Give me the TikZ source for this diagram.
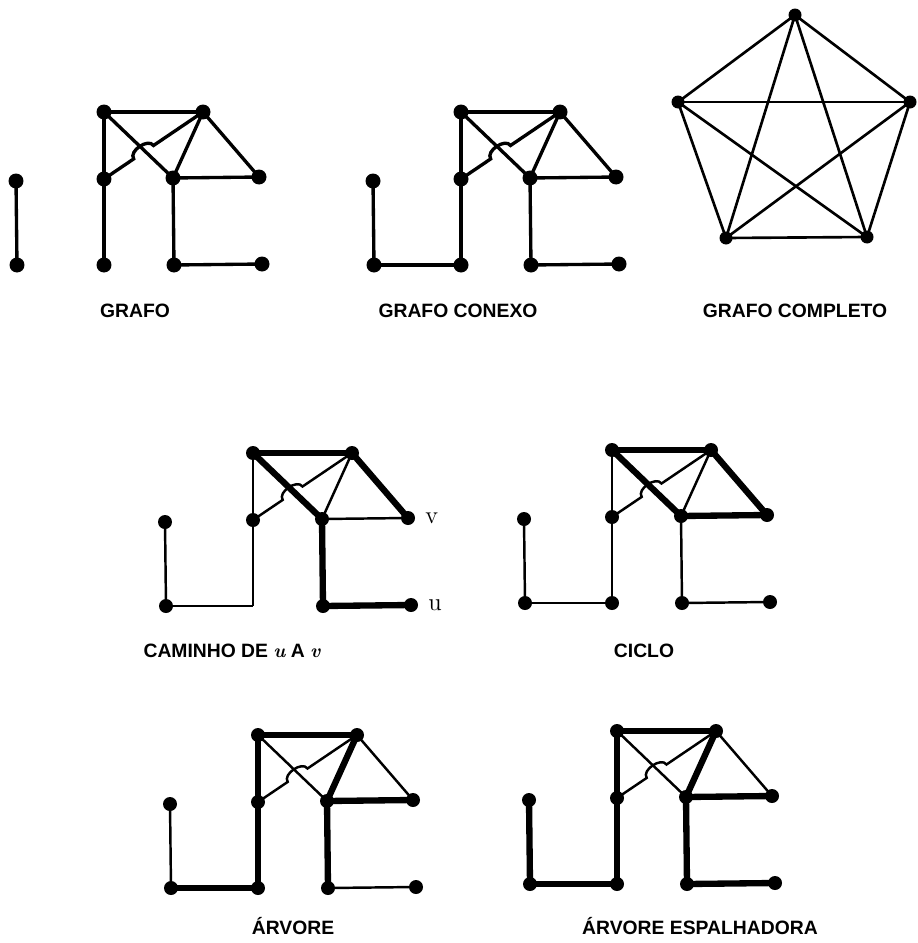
\documentclass[tikz,border=0pt]{standalone}
\usepackage{fontspec}
\usepackage{tikz}
\usetikzlibrary{calc,positioning}
\newfontfamily\capfont{Liberation Sans}

% vertex positions of the small graph, shared by all six copies
\newcommand\houseverts{P/16/181,Q/17/265,A/104/112,B/203/112,C/104/179,D/173/178,E/259/177,F/104/265,G/174/265,H/262/264}

\tikzset{
  plain/.style={line width=1.9pt},
  thin/.style={line width=1.4pt},
  heavy/.style={line width=3.6pt},
  caption/.style={anchor=base,font=\capfont\bfseries\fontsize{11}{13}\selectfont},
  endlbl/.style={anchor=west,inner sep=0pt,font=\fontsize{14}{16}\selectfont},
}

\begin{document}
\begin{tikzpicture}[x=0.02cm,y=-0.02cm]
  \useasboundingbox (0,0) rectangle (917,943);

  % grafo
  \begin{scope}[shift={(0,0)}]
    \foreach \n/\x/\y in \houseverts \coordinate (a\n) at (\x,\y);
    \foreach \u/\v in {P/Q,F/C,C/A,A/B,A/D,B/D,B/E,D/E,D/G,G/H}
      \draw[plain] (a\u) -- (a\v);
    \draw[plain] (aC) -- ($(aC)!0.3!(aB)$) to[bend left=90] ($(aC)!0.5!(aB)$) -- (aB);
    \foreach \n in {P,Q,A,B,C,D,E,F,G,H} \fill (a\n) circle (0.15cm);
  \end{scope}

  % grafo conexo
  \begin{scope}[shift={(357,0)}]
    \foreach \n/\x/\y in \houseverts \coordinate (b\n) at (\x,\y);
    \foreach \u/\v in {P/Q,Q/F,F/C,C/A,A/B,A/D,B/D,B/E,D/E,D/G,G/H}
      \draw[plain] (b\u) -- (b\v);
    \draw[plain] (bC) -- ($(bC)!0.3!(bB)$) to[bend left=90] ($(bC)!0.5!(bB)$) -- (bB);
    \foreach \n in {P,Q,A,B,C,D,E,F,G,H} \fill (b\n) circle (0.15cm);
  \end{scope}

  % grafo completo
  \foreach \n/\x/\y in {1/795/15,2/910/102,3/867/237,4/726/238,5/678/102}
    \coordinate (k\n) at (\x,\y);
  \foreach \u/\v in {1/2,1/3,1/4,1/5,2/3,2/4,2/5,3/4,3/5,4/5}
    \draw[line width=1.5pt] (k\u) -- (k\v);
  \foreach \n in {1,...,5} \fill (k\n) circle (0.13cm);

  % caminho de u a v
  \begin{scope}[shift={(149,341)}]
    \foreach \n/\x/\y in \houseverts \coordinate (c\n) at (\x,\y);
    \foreach \u/\v in {P/Q,Q/F,F/C,C/A,B/D,D/E}
      \draw[thin] (c\u) -- (c\v);
    \foreach \u/\v in {A/B,A/D,B/E,D/G,G/H}
      \draw[heavy] (c\u) -- (c\v);
    \draw[thin] (cC) -- ($(cC)!0.3!(cB)$) to[bend left=90] ($(cC)!0.5!(cB)$) -- (cB);
    \foreach \n in {P,Q,A,B,C,D,E,G,H} \fill (c\n) circle (0.14cm);
  \end{scope}
  \node[endlbl,right=0.34cm of cE] (vlab) {v};
  \node[endlbl,right=0.34cm of cH] (ulab) {u};

  % ciclo
  \begin{scope}[shift={(508,338)}]
    \foreach \n/\x/\y in \houseverts \coordinate (d\n) at (\x,\y);
    \foreach \u/\v in {P/Q,Q/F,F/C,C/A,B/D,D/G,G/H}
      \draw[thin] (d\u) -- (d\v);
    \foreach \u/\v in {A/B,A/D,B/E,D/E}
      \draw[heavy] (d\u) -- (d\v);
    \draw[thin] (dC) -- ($(dC)!0.3!(dB)$) to[bend left=90] ($(dC)!0.5!(dB)$) -- (dB);
    \foreach \n in {P,Q,A,B,C,D,E,F,G,H} \fill (d\n) circle (0.14cm);
  \end{scope}

  % arvore
  \begin{scope}[shift={(154,623)}]
    \foreach \n/\x/\y in \houseverts \coordinate (e\n) at (\x,\y);
    \foreach \u/\v in {P/Q,A/D,B/E,G/H}
      \draw[thin] (e\u) -- (e\v);
    \foreach \u/\v in {A/B,A/C,C/F,F/Q,B/D,D/E,D/G}
      \draw[heavy] (e\u) -- (e\v);
    \draw[thin] (eC) -- ($(eC)!0.3!(eB)$) to[bend left=90] ($(eC)!0.5!(eB)$) -- (eB);
    \foreach \n in {P,Q,A,B,C,D,E,F,G,H} \fill (e\n) circle (0.14cm);
  \end{scope}

  % arvore espalhadora
  \begin{scope}[shift={(513,619)}]
    \foreach \n/\x/\y in \houseverts \coordinate (f\n) at (\x,\y);
    \foreach \u/\v in {A/D,B/E}
      \draw[thin] (f\u) -- (f\v);
    \foreach \u/\v in {A/B,A/C,C/F,F/Q,P/Q,B/D,D/E,D/G,G/H}
      \draw[heavy] (f\u) -- (f\v);
    \draw[thin] (fC) -- ($(fC)!0.3!(fB)$) to[bend left=90] ($(fC)!0.5!(fB)$) -- (fB);
    \foreach \n in {P,Q,A,B,C,D,E,F,G,H} \fill (f\n) circle (0.14cm);
  \end{scope}

  % legendas
  \node[caption] (capa) at (135,317) {GRAFO};
  \node[caption] (capb) at (458,317) {GRAFO CONEXO};
  \node[caption] (capk) at (795,317) {GRAFO COMPLETO};
  \node[caption] (capc) at (232,657) {CAMINHO DE {\rmfamily\bfseries\itshape u} A {\rmfamily\bfseries\itshape v}};
  \node[caption] (capd) at (644,657) {CICLO};
  \node[caption] (cape) at (293,934) {ÁRVORE};
  \node[caption] (capf) at (700,934) {ÁRVORE ESPALHADORA};
\end{tikzpicture}
\end{document}
